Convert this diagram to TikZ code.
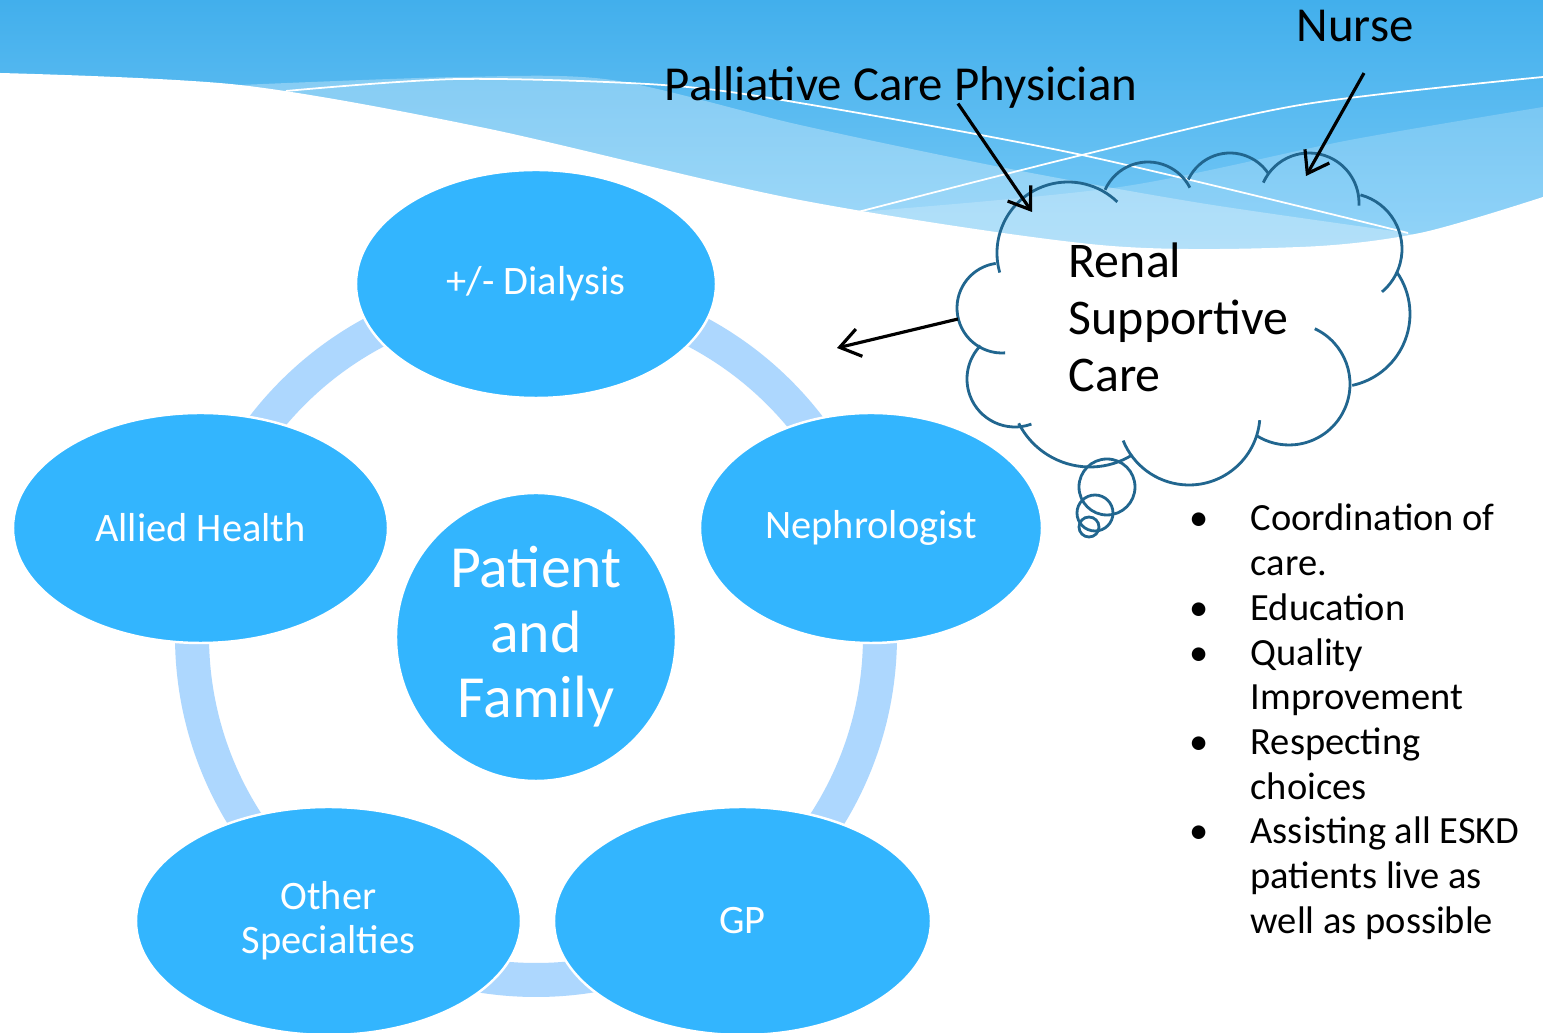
\documentclass[tikz,border=0pt]{standalone}
\usepackage{fontspec}
\setmainfont{Carlito}
\usetikzlibrary{positioning,arrows.meta,shapes.geometric}

\definecolor{headtop}{HTML}{42AFEC}
\definecolor{headbot}{HTML}{7FCDF8}
\definecolor{rolefill}{HTML}{33B5FE}
\definecolor{ringblue}{HTML}{ADD7FE}
\definecolor{cloudline}{HTML}{21668F}

\begin{document}
\begin{tikzpicture}[
  role/.style={
    ellipse, fill=rolefill, draw=white, line width=0.7pt, inner sep=0pt,
    text=white, align=center, font=\fontsize{11.5}{12.6}\selectfont
  },
  callout/.style={inner sep=0pt, font=\fontsize{13.9}{16}\selectfont},
  puff/.style={draw=cloudline, line width=0.8pt},
  pointer/.style={-{Straight Barb[length=2mm, width=2.8mm]}, line width=0.9pt, black},
  wave/.style={white, line width=0.5pt}
]

\useasboundingbox (0,0) rectangle (15.43,10.33);

% === Header waves ===
\shade[top color=headtop, bottom color=headbot] (0,7.5) rectangle (15.43,10.33);
% lighter bands
\fill[white, opacity=0.3] plot[smooth] coordinates
  {(2.40,9.48) (4.59,9.56) (6.12,9.53) (8.00,9.08) (10.00,8.66) (12.00,8.30) (14.08,8.00)}
  -- (15.43,7.5) -- (2.40,7.5) -- cycle;
\fill[white, opacity=0.2] plot[smooth] coordinates
  {(8.58,8.21) (11.20,8.46) (13.50,8.93) (15.43,9.26)}
  -- (15.43,7.5) -- (8.58,7.5) -- cycle;
% page body
\fill[white] (0,0) -- plot[smooth] coordinates
  {(0,9.60) (2.40,9.48) (4.85,9.05) (8.00,8.33) (11.00,7.88) (13.00,7.86) (14.20,8.00) (15.43,8.36)}
  -- (15.43,0) -- cycle;
% thin crossing lines
\draw[wave] plot[smooth] coordinates
  {(2.86,9.42) (4.59,9.54) (6.63,9.48) (8.00,9.30) (10.82,8.78) (14.08,8.00)};
\draw[wave] plot[smooth] coordinates
  {(8.58,8.21) (10.82,8.78) (13.00,9.28) (15.43,9.56)};

% === Care ring ===
\draw[ringblue, line width=3.4mm] (5.36,3.97) circle[radius=3.44];

\node[role, minimum width=3.60cm, minimum height=2.28cm] (dialysis) at (5.36,7.49) {+/- Dialysis};
\node[role, minimum width=3.75cm, minimum height=2.30cm] (allied) at (2.005,5.05) {Allied Health};
\node[role, minimum width=3.42cm, minimum height=2.30cm] (nephro) at (8.71,5.05) {Nephrologist};
\node[role, minimum width=3.85cm, minimum height=2.28cm] (other) at (3.285,1.12) {Other\\Specialties};
\node[role, minimum width=3.77cm, minimum height=2.28cm] (gp) at (7.425,1.12) {GP};
\node[role, minimum width=2.80cm, minimum height=2.88cm,
  font=\fontsize{17}{18.5}\selectfont] (family) at (5.36,3.96) {Patient\\and\\Family};

% === Thought cloud ===
\foreach \cx/\cy/\r/\a/\b in {
    10.68/7.80/0.71/196/46, 11.48/8.24/0.47/156/27, 12.30/8.34/0.46/155/34,
    13.09/8.30/0.50/156/-3, 13.46/7.84/0.56/75/-50, 13.37/7.19/0.73/35/-78,
    12.89/6.49/0.61/65/-122, 11.89/6.19/0.71/-5/-158, 10.90/6.46/0.80/-58/-153,
    10.15/6.54/0.48/-70/-224, 10.02/7.25/0.45/-86/-262}
  \draw[puff] (\cx,\cy) ++(\a:\r) arc[start angle=\a, end angle=\b, radius=\r];
\draw[puff] (11.07,5.46) circle[radius=0.28];
\draw[puff] (10.95,5.20) circle[radius=0.18];
\draw[puff] (10.89,5.06) circle[radius=0.10];

\node[anchor=west, align=left, inner sep=0pt,
  font=\fontsize{14.2}{16.2}\selectfont] (rsc) at (10.68,7.16) {Renal\\Supportive\\Care};

% === Team labels ===
\node[callout, anchor=base] (pcp) at (9.01,9.32) {Palliative Care Physician};
\node[callout, anchor=base] (nurse) at (13.55,9.91) {Nurse};

\coordinate (pcpTip) at (10.32,8.21);
\coordinate (nurseTip) at (13.06,8.57);
\coordinate (puffTail) at (9.58,7.14);
\coordinate (ringTip) at (8.37,6.85);

\draw[pointer] ([xshift=5.7mm, yshift=0.6mm]pcp.south) -- (pcpTip);
\draw[pointer] ([xshift=0.9mm, yshift=-3mm]nurse.south) -- (nurseTip);
\draw[pointer] (puffTail) -- (ringTip);

% === Service list ===
\node[anchor=base west, inner sep=0pt, font=\fontsize{10.95}{12.72}\selectfont] (tasks) at (11.89,5.02) {%
  \begin{tabular}[t]{@{}p{6.1mm}@{}l@{}}
  \textbullet & Coordination of\\
              & care.\\
  \textbullet & Education\\
  \textbullet & Quality\\
              & Improvement\\
  \textbullet & Respecting\\
              & choices\\
  \textbullet & Assisting all ESKD\\
              & patients live as\\
              & well as possible
  \end{tabular}};

\end{tikzpicture}
\end{document}
